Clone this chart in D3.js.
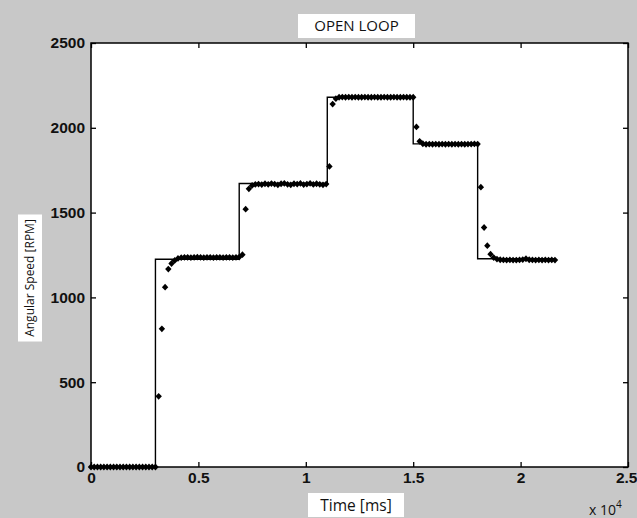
<!DOCTYPE html>
<html>
<head>
<meta charset="utf-8">
<script src="https://cdn.jsdelivr.net/npm/d3@7"></script>
<style>
  body { margin: 0; background: #c8c8c8; }
  svg { display: block; }
</style>
</head>
<body>
<div id="chart"></div>
<script>
// reference (commanded) speed, step changes
const refTime = [0, 3000, 6900, 11000, 15000, 18000, 21600];
const refSpeed = [0, 1225, 1672, 2180, 1905, 1228, 1228];

// measured speed samples (every 150 ms)
const sampleTime = [
  0, 150, 300, 450, 600, 750, 900, 1050, 1200, 1350, 1500, 1650, 1800, 1950, 2100, 2250, 2400, 2550, 2700, 2850,
  3000, 3150, 3300, 3450, 3600, 3750, 3900, 4050, 4200, 4350, 4500, 4650, 4800, 4950, 5100, 5250, 5400, 5550, 5700, 5850,
  6000, 6150, 6300, 6450, 6600, 6750, 6900, 7050, 7200, 7350, 7500, 7650, 7800, 7950, 8100, 8250, 8400, 8550, 8700, 8850,
  9000, 9150, 9300, 9450, 9600, 9750, 9900, 10050, 10200, 10350, 10500, 10650, 10800, 10950, 11100, 11250, 11400, 11550, 11700, 11850,
  12000, 12150, 12300, 12450, 12600, 12750, 12900, 13050, 13200, 13350, 13500, 13650, 13800, 13950, 14100, 14250, 14400, 14550, 14700, 14850,
  15000, 15150, 15300, 15450, 15600, 15750, 15900, 16050, 16200, 16350, 16500, 16650, 16800, 16950, 17100, 17250, 17400, 17550, 17700, 17850,
  18000, 18150, 18300, 18450, 18600, 18750, 18900, 19050, 19200, 19350, 19500, 19650, 19800, 19950, 20100, 20250, 20400, 20550, 20700, 20850,
  21000, 21150, 21300, 21450, 21600
];
const sampleSpeed = [
  0, 0, 0, 0, 0, 0, 0, 0, 0, 0, 0, 0, 0, 0, 0, 0, 0, 0, 0, 0,
  0, 417, 815, 1060, 1167, 1200, 1218, 1230, 1234, 1236, 1236, 1235, 1236, 1237, 1236, 1235, 1236, 1236, 1235, 1236,
  1236, 1235, 1236, 1236, 1235, 1236, 1238, 1252, 1520, 1640, 1660, 1666, 1668, 1665, 1670, 1667, 1671, 1668, 1664, 1670,
  1672, 1667, 1664, 1670, 1668, 1672, 1665, 1668, 1672, 1666, 1670, 1667, 1664, 1668, 1772, 2140, 2172, 2180, 2181, 2180,
  2181, 2180, 2181, 2180, 2180, 2181, 2180, 2180, 2181, 2180, 2180, 2181, 2180, 2180, 2181, 2180, 2180, 2181, 2180, 2180,
  2180, 2005, 1920, 1906, 1903, 1904, 1903, 1904, 1903, 1904, 1903, 1904, 1903, 1904, 1903, 1904, 1903, 1904, 1904, 1905,
  1904, 1650, 1412, 1305, 1255, 1235, 1226, 1222, 1221, 1220, 1221, 1220, 1220, 1221, 1223, 1228, 1222, 1221, 1220, 1221,
  1220, 1221, 1220, 1221, 1220
];

const xTicks = [0, 5000, 10000, 15000, 20000, 25000];
const yTicks = [0, 500, 1000, 1500, 2000, 2500];

const width = 637, height = 518;
const margin = { top: 43, right: 9, bottom: 51, left: 91 };

const svg = d3.select("#chart")
  .append("svg")
  .attr("width", width)
  .attr("height", height);

svg.append("rect")
  .attr("width", width)
  .attr("height", height)
  .attr("fill", "#c8c8c8");

const x = d3.scaleLinear().domain([0, 25000]).range([margin.left, width - margin.right]);
const y = d3.scaleLinear().domain([0, 2500]).range([height - margin.bottom, margin.top]);

// plot area
svg.append("rect")
  .attr("x", x(0))
  .attr("y", y(2500))
  .attr("width", x(25000) - x(0))
  .attr("height", y(0) - y(2500))
  .attr("fill", "#fff");

const tickFont = "bold 15.5px 'Liberation Sans', Arial, sans-serif";

function styleAxis(g) {
  g.select(".domain").remove();
  g.selectAll(".tick line").attr("stroke", "#000").attr("stroke-width", 1.3);
  g.selectAll(".tick text").style("font", tickFont).attr("fill", "#111");
}

const xAxis = svg.append("g")
  .attr("transform", `translate(0,${y(0)})`)
  .call(d3.axisBottom(x).tickValues(xTicks).tickFormat(d => d / 1e4).tickSizeInner(-5).tickSizeOuter(0).tickPadding(5))
  .call(styleAxis);

// last tick label sits against the right edge
xAxis.selectAll(".tick text")
  .filter(d => d === 25000)
  .attr("text-anchor", "end")
  .attr("x", width - x(25000));

svg.append("g")
  .attr("transform", `translate(0,${y(2500)})`)
  .call(d3.axisTop(x).tickValues(xTicks).tickFormat("").tickSizeInner(-5).tickSizeOuter(0))
  .call(styleAxis);

svg.append("g")
  .attr("transform", `translate(${x(0)},0)`)
  .call(d3.axisLeft(y).tickValues(yTicks).tickFormat(d3.format("d")).tickSizeInner(-5).tickSizeOuter(0).tickPadding(6))
  .call(styleAxis);

svg.append("g")
  .attr("transform", `translate(${x(25000)},0)`)
  .call(d3.axisRight(y).tickValues(yTicks).tickFormat("").tickSizeInner(-5).tickSizeOuter(0))
  .call(styleAxis);

// box
svg.append("rect")
  .attr("x", x(0))
  .attr("y", y(2500))
  .attr("width", x(25000) - x(0))
  .attr("height", y(0) - y(2500))
  .attr("fill", "none")
  .attr("stroke", "#000")
  .attr("stroke-width", 1.5);

// reference step line
const refData = refTime.map((t, i) => [t, refSpeed[i]]);
svg.append("path")
  .datum(refData)
  .attr("fill", "none")
  .attr("stroke", "#000")
  .attr("stroke-width", 1.4)
  .attr("d", d3.line().x(d => x(d[0])).y(d => y(d[1])).curve(d3.curveStepAfter));

// measured markers
const diamond = "M0,-3.4L3.2,0L0,3.4L-3.2,0Z";
svg.append("g")
  .selectAll("path")
  .data(sampleTime.map((t, i) => [t, sampleSpeed[i]]))
  .join("path")
  .attr("transform", d => `translate(${x(d[0])},${y(d[1])})`)
  .attr("d", diamond)
  .attr("fill", "#000");

// labels in white boxes
function boxedLabel(cx, cy, w, h, text, rotate, size) {
  const g = svg.append("g").attr("transform", `translate(${cx},${cy}) rotate(${rotate})`);
  g.append("rect")
    .attr("x", -w / 2).attr("y", -h / 2)
    .attr("width", w).attr("height", h)
    .attr("fill", "#fff");
  g.append("text")
    .attr("text-anchor", "middle")
    .attr("dy", "0.36em")
    .style("font", `${size}px 'Open Sans', sans-serif`)
    .attr("fill", "#111")
    .text(text);
}

boxedLabel(356.5, 26, 117, 24, "OPEN LOOP", 0, 15);
boxedLabel(356, 505, 96, 24, "Time [ms]", 0, 15.5);
boxedLabel(30, 278, 127, 24, "Angular Speed [RPM]", -90, 12);

// exponent marker
const expo = svg.append("text")
  .attr("x", 589)
  .attr("y", 515)
  .style("font", "14px 'Open Sans', sans-serif")
  .attr("fill", "#111");
expo.append("tspan").text("x 10");
expo.append("tspan").attr("dy", -7).style("font-size", "10px").text("4");
</script>
</body>
</html>
